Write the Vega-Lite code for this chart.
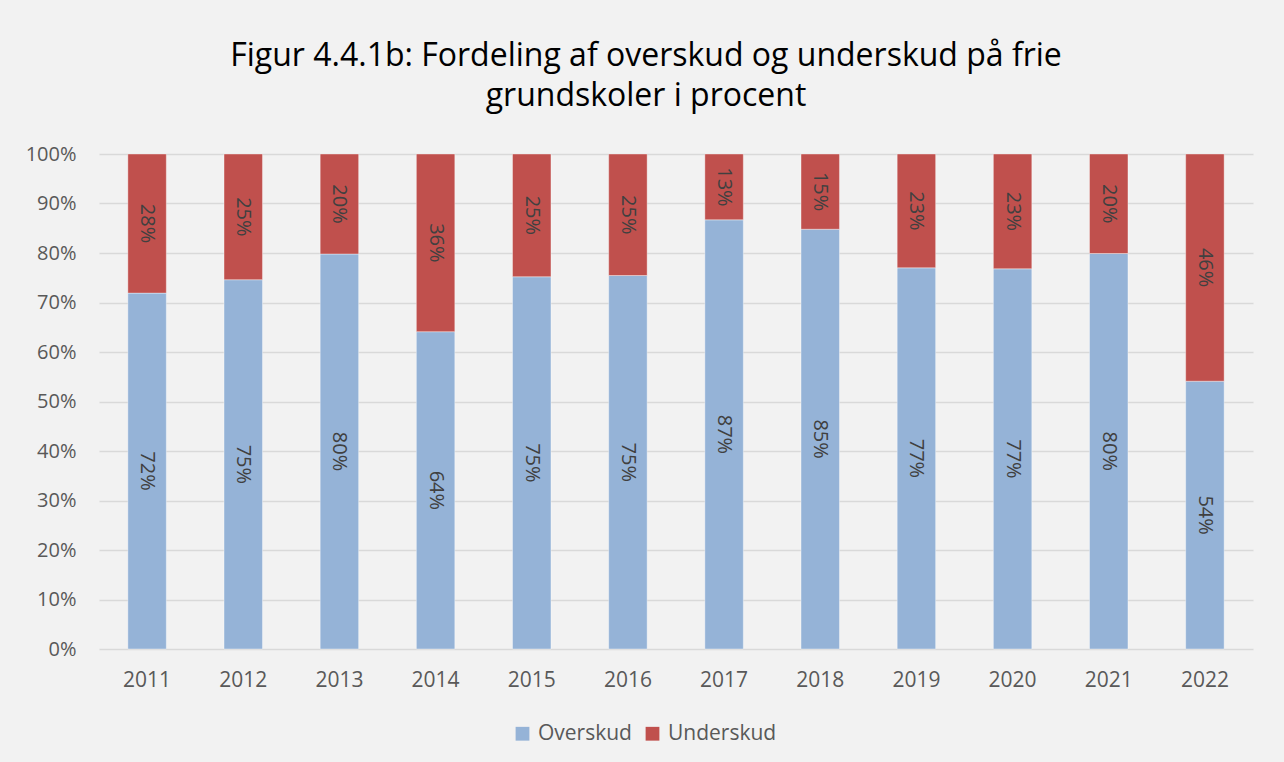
{
  "$schema": "https://vega.github.io/schema/vega-lite/v6.json",
  "autosize": "none",
  "padding": {"left": 99, "top": 154, "right": 31, "bottom": 113},
  "width": 1154,
  "height": 495,
  "background": "#f2f2f2",
  "config": {
    "font": "Open Sans",
    "view": {"stroke": null},
    "axis": {"labelFont": "Open Sans", "labelColor": "#595959", "labelFontSize": 20},
    "legend": {"labelFont": "Open Sans", "labelColor": "#595959", "labelFontSize": 20}
  },
  "title": {
    "text": ["Figur 4.4.1b: Fordeling af overskud og underskud på frie", "grundskoler i procent"],
    "font": "Open Sans",
    "fontSize": 32,
    "fontWeight": "normal",
    "color": "#000000",
    "lineHeight": 40,
    "anchor": "middle",
    "frame": "group",
    "dx": -30,
    "baseline": "bottom",
    "offset": -1
  },
  "data": {
    "values": [
      {"year": "2011", "type": "Overskud", "share": 0.719},
      {"year": "2011", "type": "Underskud", "share": 0.281},
      {"year": "2012", "type": "Overskud", "share": 0.746},
      {"year": "2012", "type": "Underskud", "share": 0.254},
      {"year": "2013", "type": "Overskud", "share": 0.798},
      {"year": "2013", "type": "Underskud", "share": 0.202},
      {"year": "2014", "type": "Overskud", "share": 0.641},
      {"year": "2014", "type": "Underskud", "share": 0.359},
      {"year": "2015", "type": "Overskud", "share": 0.752},
      {"year": "2015", "type": "Underskud", "share": 0.248},
      {"year": "2016", "type": "Overskud", "share": 0.7545},
      {"year": "2016", "type": "Underskud", "share": 0.2455},
      {"year": "2017", "type": "Overskud", "share": 0.867},
      {"year": "2017", "type": "Underskud", "share": 0.133},
      {"year": "2018", "type": "Overskud", "share": 0.848},
      {"year": "2018", "type": "Underskud", "share": 0.152},
      {"year": "2019", "type": "Overskud", "share": 0.770},
      {"year": "2019", "type": "Underskud", "share": 0.230},
      {"year": "2020", "type": "Overskud", "share": 0.768},
      {"year": "2020", "type": "Underskud", "share": 0.232},
      {"year": "2021", "type": "Overskud", "share": 0.799},
      {"year": "2021", "type": "Underskud", "share": 0.201},
      {"year": "2022", "type": "Overskud", "share": 0.541},
      {"year": "2022", "type": "Underskud", "share": 0.459}
    ]
  },
  "encoding": {
    "x": {
      "field": "year",
      "type": "nominal",
      "title": null,
      "scale": {"paddingInner": 0.6, "paddingOuter": 0.3},
      "axis": {"labelAngle": 0, "domain": false, "ticks": false, "labelPadding": 20, "grid": false, "labelFontSize": 21}
    },
    "y": {
      "field": "share",
      "type": "quantitative",
      "stack": "zero",
      "title": null,
      "scale": {"domain": [0, 1], "nice": false},
      "axis": {
        "values": [0, 0.1, 0.2, 0.3, 0.4, 0.5, 0.6, 0.7, 0.8, 0.9, 1],
        "format": ".0%",
        "domain": false,
        "ticks": false,
        "labelPadding": 23,
        "grid": true,
        "gridColor": "#d9d9d9",
        "gridWidth": 1.5
      }
    },
    "order": {"field": "type", "sort": "ascending"}
  },
  "layer": [
    {
      "mark": {"type": "bar", "stroke": "#ffffff", "strokeWidth": 0.75, "strokeOpacity": 0.5},
      "encoding": {
        "color": {
          "field": "type",
          "type": "nominal",
          "scale": {"domain": ["Overskud", "Underskud"], "range": ["#95b3d7", "#c0504d"]},
          "legend": {
            "title": null,
            "orient": "none",
            "direction": "horizontal",
            "legendX": 413,
            "legendY": 569,
            "symbolType": "square",
            "symbolSize": 190,
            "symbolStrokeWidth": 0,
            "labelOffset": 5,
            "columnSpacing": 30,
            "labelFontSize": 21
          }
        }
      }
    },
    {
      "mark": {"type": "text", "angle": 90, "fontSize": 20, "color": "#404040", "align": "center", "baseline": "middle"},
      "encoding": {
        "y": {"field": "share", "type": "quantitative", "stack": "zero", "bandPosition": 0.5},
        "text": {"field": "share", "type": "quantitative", "format": ".0%"}
      }
    }
  ]
}
